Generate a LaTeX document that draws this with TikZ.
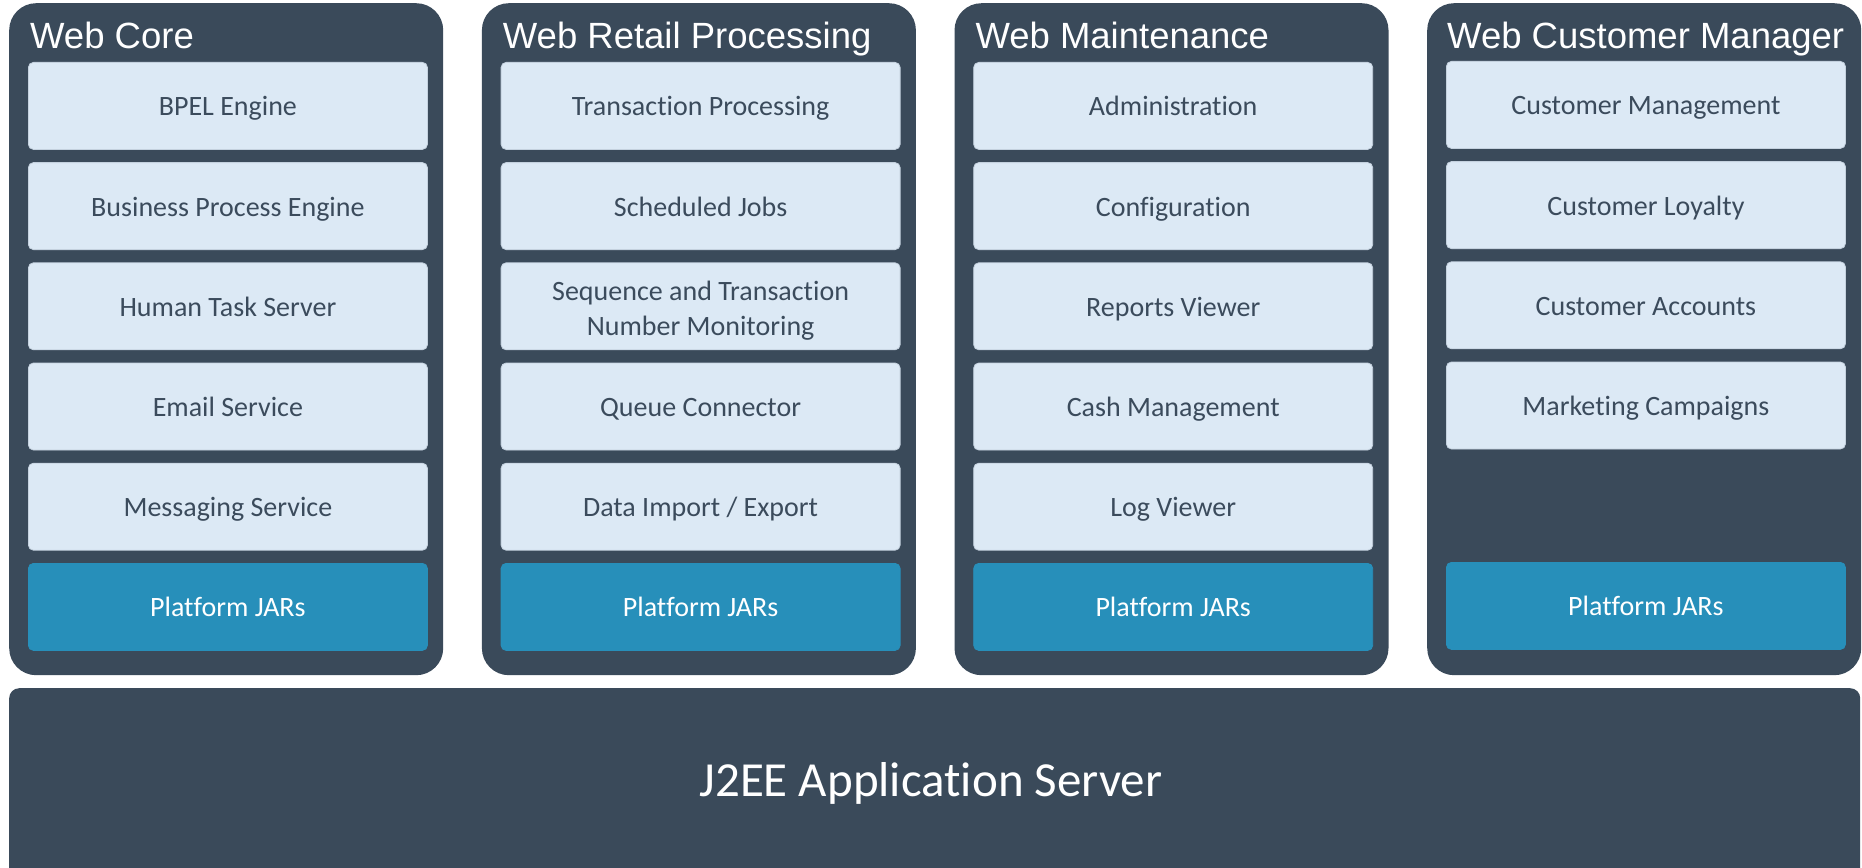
\documentclass[tikz,border=0pt]{standalone}
\usepackage{fontspec}
\setmainfont[Ligatures=NoCommon]{Carlito}
\newfontfamily\headfont{Liberation Sans}
\definecolor{slate}{HTML}{3A4A5A}
\definecolor{paleblue}{HTML}{DCE9F5}
\definecolor{jarblue}{HTML}{278FBA}
\definecolor{labelgrey}{HTML}{3B4B5C}
\begin{document}
\begin{tikzpicture}[x=1pt,y=-1pt,
  panel/.style={fill=slate, rounded corners=27pt, minimum width=434pt,
    minimum height=672pt, inner sep=0pt, anchor=north west},
  module/.style={fill=paleblue, draw=paleblue!85!slate, line width=0.8pt,
    rounded corners=5pt, minimum width=399pt, minimum height=87pt,
    inner sep=0pt, anchor=north west, text=labelgrey, align=center,
    text height=20pt, text depth=0pt,
    font=\fontsize{28}{35}\selectfont},
  twoline/.style={text height=58pt, text depth=0pt},
  jar/.style={module, fill=jarblue, draw=jarblue, text=white},
  title/.style={anchor=base west, text=white, inner sep=0pt,
    font=\headfont\fontsize{36.5}{40}\selectfont},
  server/.style={fill=slate, rounded corners=10pt, minimum width=1851pt,
    minimum height=220pt, inner sep=0pt, anchor=north west},
  servertext/.style={anchor=base, text=white, inner sep=0pt,
    font=\fontsize{49}{53}\selectfont},
]
\clip (0,0) rectangle (1862,867);

% column panels
\node[panel] (p1) at (9,3) {};
\node[panel] (p2) at (481.7,3) {};
\node[panel] (p3) at (954.3,3) {};
\node[panel] (p4) at (1427,3) {};

% panel titles
\node[title] (t1) at (30,48.5) {Web Core};
\node[title] (t2) at (502.7,48.5) {Web Retail Processing};
\node[title] (t3) at (975.3,48.5) {Web Maintenance};
\node[title] (t4) at (1447,48.5) {Web Customer Manager};

% Web Core
\node[module] (c1) at (28,62) {BPEL Engine};
\node[module] (c2) at (28,162.2) {Business Process Engine};
\node[module] (c3) at (28,262.4) {Human Task Server};
\node[module] (c4) at (28,362.6) {Email Service};
\node[module] (c5) at (28,462.8) {Messaging Service};
\node[jar]    (c6) at (28,563) {Platform JARs};

% Web Retail Processing
\node[module] (r1) at (500.7,62) {Transaction Processing};
\node[module] (r2) at (500.7,162.2) {Scheduled Jobs};
\node[module, twoline] (r3) at (500.7,262.4) {Sequence and Transaction\\Number Monitoring};
\node[module] (r4) at (500.7,362.6) {Queue Connector};
\node[module] (r5) at (500.7,462.8) {Data Import / Export};
\node[jar]    (r6) at (500.7,563) {Platform JARs};

% Web Maintenance
\node[module] (m1) at (973.3,62) {Administration};
\node[module] (m2) at (973.3,162.2) {Configuration};
\node[module] (m3) at (973.3,262.4) {Reports Viewer};
\node[module] (m4) at (973.3,362.6) {Cash Management};
\node[module] (m5) at (973.3,462.8) {Log Viewer};
\node[jar]    (m6) at (973.3,563) {Platform JARs};

% Web Customer Manager
\node[module] (u1) at (1446,61) {Customer Management};
\node[module] (u2) at (1446,161.2) {Customer Loyalty};
\node[module] (u3) at (1446,261.4) {Customer Accounts};
\node[module] (u4) at (1446,361.6) {Marketing Campaigns};
\node[jar]    (u6) at (1446,562) {Platform JARs};

% application server
\node[server] (srv) at (9,688) {};
\node[servertext] (srvlabel) at (931,796) {J2EE Application Server};
\end{tikzpicture}
\end{document}
